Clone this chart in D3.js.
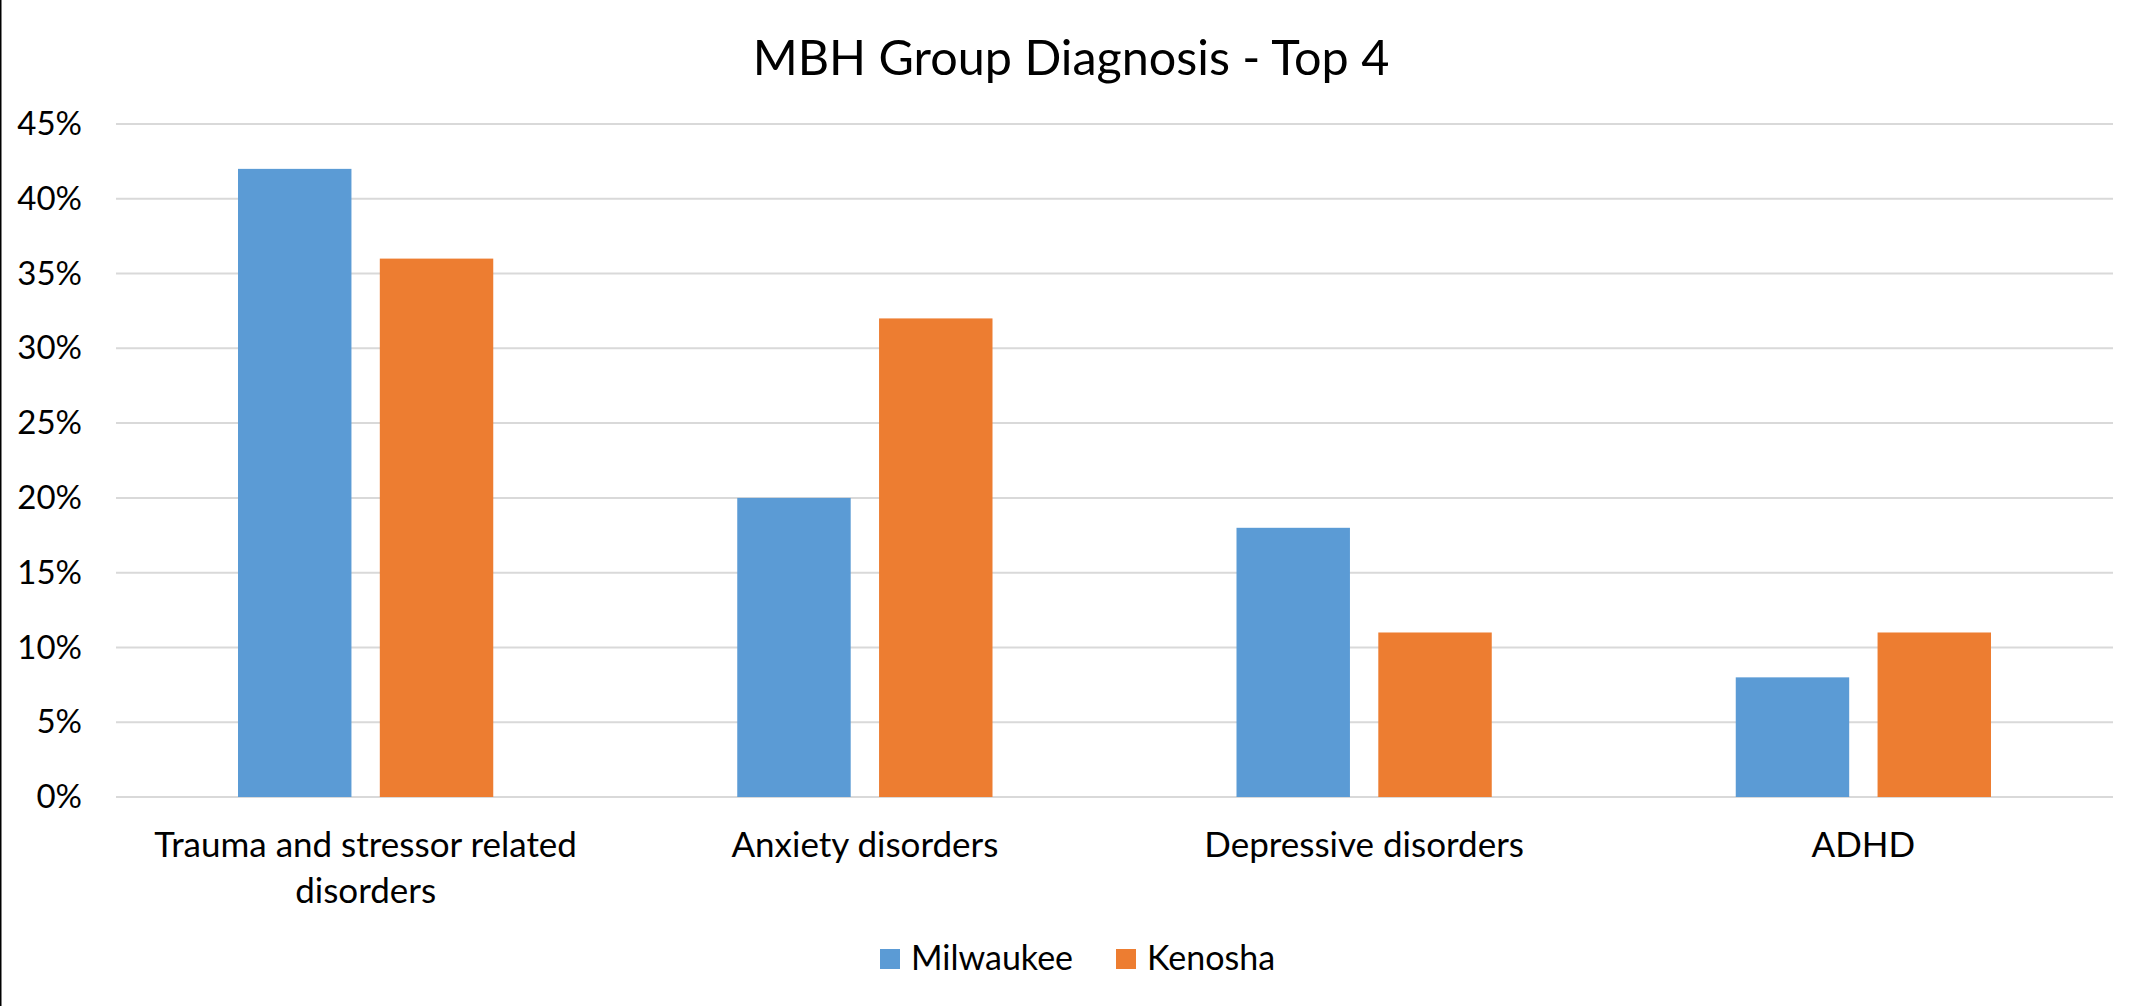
<!DOCTYPE html>
<html>
<head>
<meta charset="utf-8">
<title>MBH Group Diagnosis - Top 4</title>
<style>
  body { margin: 0; background: #fff; }
  svg { display: block; font-family: Lato, "Open Sans", sans-serif; }
</style>
<script src="https://d3js.org/d3.v7.min.js"></script>
</head>
<body>
<svg width="2139" height="1006"></svg>
<script>
// chart data
var categories = [["Trauma and stressor related", "disorders"], ["Anxiety disorders"], ["Depressive disorders"], ["ADHD"]];
var seriesNames = ["Milwaukee", "Kenosha"];
var milwaukee = [42, 20, 18, 8];
var kenosha = [36, 32, 11, 11];
var yTicks = [0, 5, 10, 15, 20, 25, 30, 35, 40, 45];
var colors = ["#5B9BD5", "#ED7D31"];

var W = 2139, H = 1006;
var margin = {top: 124, right: 26, bottom: 209, left: 116};
var width = W - margin.left - margin.right,
    height = H - margin.top - margin.bottom;

var svg = d3.select("svg");

// left edge of the chart frame
svg.append("line")
  .attr("x1", 0.75).attr("x2", 0.75)
  .attr("y1", 0).attr("y2", H)
  .attr("stroke", "#000").attr("stroke-width", 1.5);

svg.append("text")
  .attr("x", 1071).attr("y", 75)
  .attr("text-anchor", "middle")
  .style("font-size", "48.5px")
  .style("fill", "#000")
  .text("MBH Group Diagnosis - Top 4");

var g = svg.append("g")
  .attr("transform", "translate(" + margin.left + "," + margin.top + ")");

var x0 = d3.scaleBand()
  .domain(d3.range(categories.length))
  .range([0, width])
  .paddingInner(0)
  .paddingOuter(0);

var x1 = d3.scaleBand()
  .domain(seriesNames)
  .range([122, x0.bandwidth() - 122])
  .paddingInner(0.2);

var y = d3.scaleLinear()
  .domain([0, 45])
  .range([height, 0]);

// gridlines
g.append("g")
  .selectAll("line")
  .data(yTicks)
  .enter().append("line")
    .attr("x1", 0).attr("x2", width)
    .attr("y1", function(d) { return y(d); })
    .attr("y2", function(d) { return y(d); })
    .attr("stroke", "#D9D9D9")
    .attr("stroke-width", 2);

// y axis labels
var yAxis = g.append("g")
  .call(d3.axisLeft(y).tickValues(yTicks).tickSize(0).tickPadding(34).tickFormat(function(d) { return d + "%"; }));
yAxis.select(".domain").remove();
yAxis.selectAll("text")
  .style("font-family", "Lato, sans-serif")
  .style("font-size", "33px")
  .style("fill", "#000");

var rows = categories.map(function(c, i) {
  return {i: i, Milwaukee: milwaukee[i], Kenosha: kenosha[i]};
});

g.append("g")
  .selectAll("g")
  .data(rows)
  .enter().append("g")
    .attr("transform", function(d) { return "translate(" + x0(d.i) + ",0)"; })
    .selectAll("rect")
    .data(function(d) { return seriesNames.map(function(k) { return {key: k, value: d[k]}; }); })
    .enter().append("rect")
      .attr("x", function(d) { return x1(d.key); })
      .attr("y", function(d) { return y(d.value); })
      .attr("width", x1.bandwidth())
      .attr("height", function(d) { return y(0) - y(d.value); })
      .attr("fill", function(d, i) { return colors[i]; });

// category labels
var cat = g.append("g")
  .selectAll("text")
  .data(categories)
  .enter().append("text")
    .attr("x", function(d, i) { return x0(i) + x0.bandwidth() / 2; })
    .attr("y", height + 60)
    .attr("text-anchor", "middle")
    .style("font-size", "35px")
    .style("fill", "#000");
cat.selectAll("tspan")
  .data(function(d) { return d; })
  .enter().append("tspan")
    .attr("x", function() { return d3.select(this.parentNode).attr("x"); })
    .attr("dy", function(d, i) { return i === 0 ? 0 : 46; })
    .text(function(d) { return d; });

// legend
var legendX = [880, 1116];
var legend = svg.append("g")
  .selectAll("g")
  .data(seriesNames)
  .enter().append("g")
    .attr("transform", function(d, i) { return "translate(" + legendX[i] + ",949)"; });
legend.append("rect")
  .attr("width", 20).attr("height", 20)
  .attr("fill", function(d, i) { return colors[i]; });
legend.append("text")
  .attr("x", 31).attr("y", 21)
  .style("font-size", "34px")
  .style("fill", "#000")
  .text(function(d) { return d; });
</script>
</body>
</html>
